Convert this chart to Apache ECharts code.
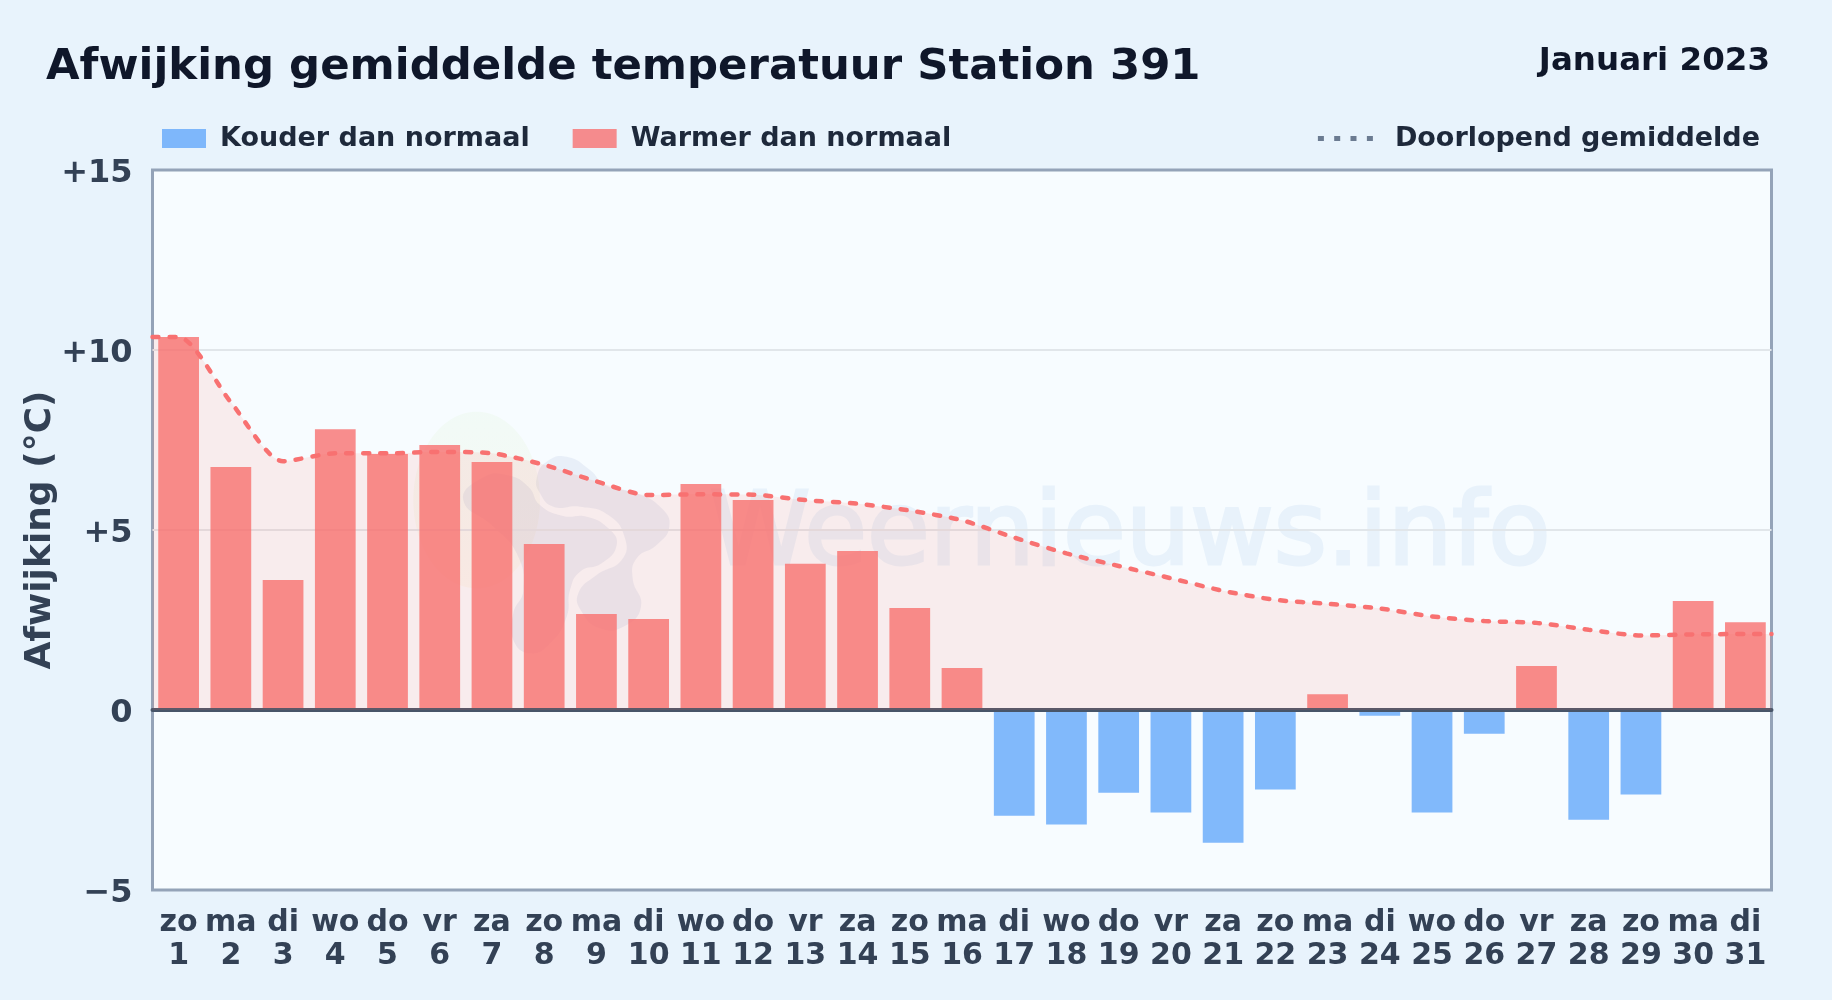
<!DOCTYPE html>
<html><head><meta charset="utf-8">
<style>html,body{margin:0;padding:0;background:#e8f3fc}#c{width:1832px;height:1000px}</style>
<script src="https://cdn.jsdelivr.net/npm/echarts@6/dist/echarts.min.js"></script>
</head><body><div id="c"></div>
<script>
const weekdays = ['zo','ma','di','wo','do','vr','za','zo','ma','di','wo','do','vr','za','zo','ma','di','wo','do','vr','za','zo','ma','di','wo','do','vr','za','zo','ma','di'];
const days = [1,2,3,4,5,6,7,8,9,10,11,12,13,14,15,16,17,18,19,20,21,22,23,24,25,26,27,28,29,30,31];
const warmer = [10.36,6.75,3.61,7.8,7.11,7.36,6.89,4.61,2.67,2.53,6.28,5.83,4.06,4.42,2.83,1.17,null,null,null,null,null,null,0.44,null,null,null,1.22,null,null,3.03,2.44];
const kouder = [null,null,null,null,null,null,null,null,null,null,null,null,null,null,null,null,-2.94,-3.18,-2.30,-2.85,-3.69,-2.21,null,-0.16,-2.85,-0.66,null,-3.05,-2.35,null,null];
const avgX = [0.5,1,2,3,4,5,6,7,8,9,10,11,12,13,14,15,16,17,18,19,20,21,22,23,24,25,26,27,28,29,30,31,31.5];
const avgY = [10.36,10.36,8.55,6.91,7.13,7.13,7.17,7.13,6.81,6.35,5.97,5.99,5.98,5.83,5.73,5.54,5.27,4.79,4.35,4.0,3.66,3.31,3.06,2.95,2.82,2.60,2.47,2.42,2.23,2.07,2.10,2.11,2.11];
const FONT = '"DejaVu Sans"';
const chart = echarts.init(document.getElementById('c'));
const lg = {fontFamily:FONT,fontWeight:'bold',fontSize:27,color:'#1e293b',padding:[0,0,0,9]};
const lg2 = {fontFamily:FONT,fontWeight:'bold',fontSize:27,color:'#1e293b',padding:[0,0,0,17]};
const Z = 1;
const blobLeft = [[340,330],[400,262],[470,255],[535,290],[570,345],[640,378],[710,380],[775,415],[800,465],[755,520],[690,545],[660,600],[650,680],[600,760],[540,790],[490,750],[490,670],[520,600],[500,490],[430,410]];
const blobRight = [[560,265],[590,215],[650,200],[720,240],[765,285],[860,310],[935,355],[958,410],[920,465],[860,505],[848,565],[873,650],[820,710],[750,715],[695,665],[685,610],[740,555],[815,510],[825,445],[775,375],[690,350],[610,350],[570,310]];
chart.setOption({
  animation:false,
  backgroundColor:'#e8f3fc',
  title:[
    {text:'Afwijking gemiddelde temperatuur Station 391',left:46,top:46.5,padding:0,textStyle:{fontFamily:FONT,fontWeight:'bold',fontSize:43.4,color:'#0f172a'}},
    {text:'Januari 2023',right:62,top:45,padding:0,textStyle:{fontFamily:FONT,fontWeight:'bold',fontSize:32.5,color:'#0f172a'}}
  ],
  legend:[
    {left:162,top:125,itemWidth:44,itemHeight:19,itemGap:43,textStyle:lg,padding:0,selectedMode:false,
     data:[{name:'Kouder dan normaal',icon:'rect'},{name:'Warmer dan normaal',icon:'rect'}]},
    {right:72,top:125,itemWidth:55,itemHeight:5,textStyle:lg2,padding:0,selectedMode:false,
     data:[{name:'Doorlopend gemiddelde',icon:'path://M0 0h6v5H0z M16.3 0h6v5h-6z M32.6 0h6v5h-6z M49 0h6v5h-6z',itemStyle:{color:'#64748b',opacity:0.95}}]}
  ],
  grid:{left:152.5,right:60.5,top:170,bottom:110,show:true,backgroundColor:'#f7fcff',borderColor:'#94a3b8',borderWidth:3,containLabel:false},
  xAxis:[
    {type:'category',data:weekdays.map((w,i)=>w+'\n'+days[i]),position:'bottom',
     axisLine:{show:false,onZero:false},axisTick:{show:false},splitLine:{show:false},
     axisLabel:{interval:0,margin:16,fontFamily:FONT,fontWeight:'bold',fontSize:30,lineHeight:33.5,color:'#334155'}},
    {type:'value',min:0.5,max:31.5,position:'bottom',z:5,
     axisLine:{show:true,onZero:true,lineStyle:{color:'#475569',width:4}},axisTick:{show:false},axisLabel:{show:false},splitLine:{show:false}}
  ],
  yAxis:{type:'value',z:2,min:-5,max:15,interval:5,name:'Afwijking (°C)',nameLocation:'middle',nameGap:94,nameMoveOverlap:false,
    nameTextStyle:{fontFamily:FONT,fontWeight:'bold',fontSize:36,color:'#334155'},
    axisLine:{show:false},axisTick:{show:false},
    axisLabel:{margin:20,fontFamily:FONT,fontWeight:'bold',fontSize:32,color:'#334155',
      rich:{a:{fontFamily:FONT,fontWeight:'bold',fontSize:32,color:'#334155',padding:[7,0,0,0]}},
      formatter:v=>'{a|'+(v>0?'+'+v:(v<0?'\u2212'+(-v):'0'))+'}'},
    splitLine:{show:true,showMinLine:false,showMaxLine:false,lineStyle:{color:'#e1e6ea',width:2}}},
  graphic:{elements:[
    {type:'group',x:350,y:390,scaleX:1/3,scaleY:1/3,z:Z,silent:true,children:[
      {type:'ellipse',z:Z,shape:{cx:380,cy:330,rx:190,ry:265},style:{fill:new echarts.graphic.LinearGradient(0,0,0,1,[{offset:0,color:'rgba(170,225,130,0.07)'},{offset:1,color:'rgba(250,215,130,0.09)'}])}},
      {type:'polygon',z:Z,shape:{points:blobLeft,smooth:0.5},style:{fill:'rgba(105,115,180,0.10)'}},
      {type:'polygon',z:Z,shape:{points:blobRight,smooth:0.5},style:{fill:'rgba(105,125,190,0.10)'}}
    ]},
    {type:'text',x:1130,y:537,z:Z,silent:true,style:{text:'Weernieuws.info',fontFamily:FONT,fontSize:102,fill:'#e8f2fb',stroke:'#e8f2fb',lineWidth:3,align:'center',verticalAlign:'middle'}}
  ]},
  series:[
    {name:'Doorlopend gemiddelde',type:'line',xAxisIndex:1,data:avgX.map((x,i)=>[x,avgY[i]]),smooth:0.25,showSymbol:false,symbol:'none',z:6,
     lineStyle:{color:'#f87171',type:[6,11],width:4.5,cap:'round'},areaStyle:{color:'rgba(255,110,100,0.16)',origin:0}},
    {name:'Kouder dan normaal',type:'bar',xAxisIndex:0,data:kouder,barWidth:'78%',barGap:'-100%',z:3,itemStyle:{color:'#60a5fa',opacity:0.78}},
    {name:'Warmer dan normaal',type:'bar',xAxisIndex:0,data:warmer,barWidth:'78%',barGap:'-100%',z:3,itemStyle:{color:'#f87171',opacity:0.8}}
  ]
});
</script></body></html>
